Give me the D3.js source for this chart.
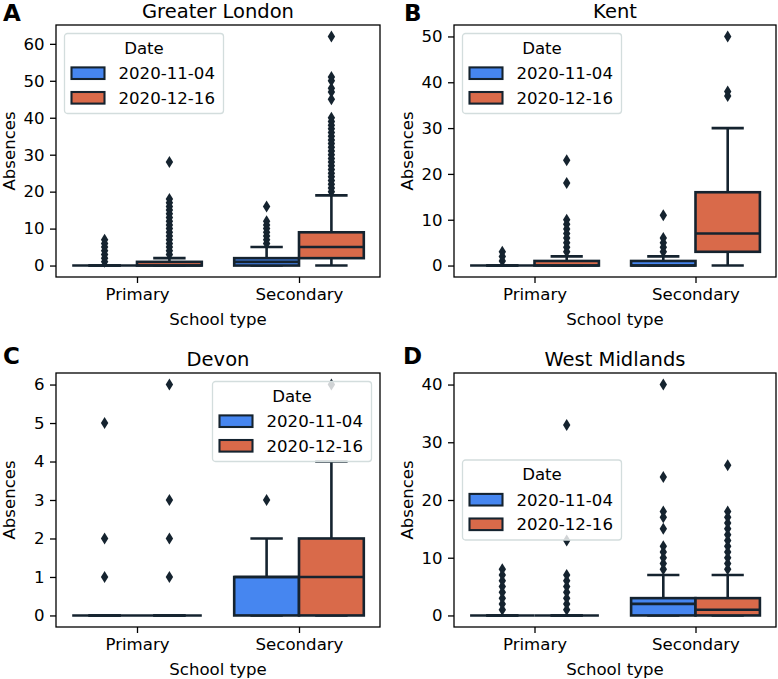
<!DOCTYPE html>
<html><head><meta charset="utf-8">
<script src="https://cdn.jsdelivr.net/npm/d3@7"></script>
<style>
body{margin:0;background:#fff}
svg{display:block}
text{font-family:"DejaVu Sans",sans-serif;fill:#000}
</style>
</head><body>
<svg id="chart" width="778" height="679"></svg>
<script>
// ---------- data ----------
const regions = ["Greater London", "Kent", "Devon", "West Midlands"];
const panelLetters = ["A", "B", "C", "D"];
const schoolTypes = ["Primary", "Secondary"];
const dates = ["2020-11-04", "2020-12-16"];
const dateColors = ["#4686f0", "#d96a4a"];

// box stats per box: [whiskerLow, q1, median, q3, whiskerHigh]
// order: Primary/2020-11-04, Primary/2020-12-16, Secondary/2020-11-04, Secondary/2020-12-16
const londonStats = [[0,0,0,0,0],[0,0,0,1,2],[0,0,1,2,5],[0,2,5,9,19]];
const londonFliers = [
  [1,2,3,4,5,6,7],
  [3,4,5,6,7,8,9,10,11,12,13,14,15,16,17,18,28],
  [6,7,8,9,10,11,12,16],
  [20,21,22,23,24,25,26,27,28,29,30,31,32,33,34,35,36,37,38,39,40,45,47,48,50,51,62]
];
const kentStats = [[0,0,0,0,0],[0,0,0,1,2],[0,0,0,1,2],[0,3,7,16,30]];
const kentFliers = [
  [1,2,3],
  [3,4,5,6,7,8,9,10,18,23],
  [3,4,5,6,11],
  [37,38,50]
];
const devonStats = [[0,0,0,0,0],[0,0,0,0,0],[0,0,1,1,2],[0,0,1,2,4]];
const devonFliers = [
  [1,2,5],
  [1,2,3,6],
  [3],
  [6]
];
const midlandsStats = [[0,0,0,0,0],[0,0,0,0,0],[0,0,2,3,7],[0,0,1,3,7]];
const midlandsFliers = [
  [1,2,3,4,5,6,7,8],
  [1,2,3,4,5,6,7,13,33],
  [8,9,10,11,12,15,17,18,24,40],
  [8,9,10,11,12,13,14,15,16,17,18,26]
];
const londonTicks = [0,10,20,30,40,50,60];
const kentTicks = [0,10,20,30,40,50];
const devonTicks = [0,1,2,3,4,5,6];
const midlandsTicks = [0,10,20,30,40];

const allStats = [londonStats, kentStats, devonStats, midlandsStats];
const allFliers = [londonFliers, kentFliers, devonFliers, midlandsFliers];
const allTicks = [londonTicks, kentTicks, devonTicks, midlandsTicks];

// ---------- layout ----------
const frames = [
  {l:56, r:380, t:25, b:277},
  {l:454, r:776, t:25, b:277},
  {l:56, r:380, t:373, b:627},
  {l:454, r:776, t:373, b:627}
];
const letterPos = [[3,21],[404,21],[3,364],[403,364]];
const legendLoc = ["upper left","upper left","upper right","center left"];

const FS = 16.6;
const LINE = "#15232f";
const LW = 2.6;

const svg = d3.select("#chart");

regions.forEach((region, p) => {
  const f = frames[p];
  const stats = allStats[p], fliers = allFliers[p];
  const g = svg.append("g");

  const maxV = d3.max([...stats.flat(), ...fliers.flat()]);
  const minV = 0;
  const pad = 0.05 * (maxV - minV);
  const y = d3.scaleLinear().domain([minV - pad, maxV + pad]).range([f.b, f.t]);
  const x = d3.scaleLinear().domain([-0.5, 1.5]).range([f.l, f.r]);

  // boxes
  const boxW = 0.4;
  stats.forEach((s, i) => {
    const cat = Math.floor(i / 2), hue = i % 2;
    const cx = cat + (hue === 0 ? -0.2 : 0.2);
    const x0 = x(cx - boxW / 2), x1 = x(cx + boxW / 2);
    const [wl, q1, med, q3, wh] = s;
    const bg = g.append("g");
    // whiskers
    bg.append("line").attr("x1", x(cx)).attr("x2", x(cx)).attr("y1", y(q3)).attr("y2", y(wh))
      .attr("stroke", LINE).attr("stroke-width", LW);
    bg.append("line").attr("x1", x(cx)).attr("x2", x(cx)).attr("y1", y(q1)).attr("y2", y(wl))
      .attr("stroke", LINE).attr("stroke-width", LW);
    // caps
    [wl, wh].forEach(v => {
      bg.append("line").attr("x1", x(cx - boxW / 4)).attr("x2", x(cx + boxW / 4))
        .attr("y1", y(v)).attr("y2", y(v)).attr("stroke", LINE).attr("stroke-width", LW);
    });
    // box
    bg.append("rect").attr("x", x0).attr("width", x1 - x0)
      .attr("y", y(q3)).attr("height", Math.max(0, y(q1) - y(q3)))
      .attr("fill", dateColors[hue]).attr("stroke", LINE).attr("stroke-width", LW);
    // median
    bg.append("line").attr("x1", x0).attr("x2", x1).attr("y1", y(med)).attr("y2", y(med))
      .attr("stroke", LINE).attr("stroke-width", LW);
    // fliers
    bg.selectAll("path.fl").data(fliers[i]).join("path")
      .attr("class", "fl")
      .attr("d", v => {
        const px = x(cx), py = y(v), hw = 3.7, hh = 6;
        return `M${px},${py - hh}L${px + hw},${py}L${px},${py + hh}L${px - hw},${py}Z`;
      })
      .attr("fill", LINE);
  });

  // frame
  g.append("rect").attr("x", f.l).attr("y", f.t).attr("width", f.r - f.l).attr("height", f.b - f.t)
    .attr("fill", "none").attr("stroke", "#000").attr("stroke-width", 1.3);

  // axes
  const ya = g.append("g").attr("transform", `translate(${f.l},0)`)
    .call(d3.axisLeft(y).tickValues(allTicks[p]).tickFormat(d3.format("d")).tickSize(6).tickPadding(5.5).tickSizeOuter(0));
  const xa = g.append("g").attr("transform", `translate(0,${f.b})`)
    .call(d3.axisBottom(x).tickValues([0, 1]).tickFormat(i => schoolTypes[i]).tickSize(6).tickPadding(5.5).tickSizeOuter(0));
  [ya, xa].forEach(a => {
    a.select(".domain").remove();
    a.selectAll("line").attr("stroke", "#000").attr("stroke-width", 1.3);
    a.selectAll("text").attr("font-size", FS).attr("font-family", "DejaVu Sans").attr("fill", "#000");
  });

  // labels
  g.append("text").attr("x", (f.l + f.r) / 2).attr("y", f.b + 48).attr("text-anchor", "middle")
    .attr("font-size", FS).text("School type");
  g.append("text").attr("transform", `translate(${f.l - 41},${(f.t + f.b) / 2}) rotate(-90)`)
    .attr("text-anchor", "middle").attr("font-size", FS).text("Absences");
  g.append("text").attr("x", (f.l + f.r) / 2).attr("y", f.t - 6.8).attr("text-anchor", "middle")
    .attr("font-size", 19.5).text(region);
  g.append("text").attr("x", letterPos[p][0]).attr("y", letterPos[p][1])
    .attr("font-size", 23).attr("font-weight", "bold").text(panelLetters[p]);

  // legend
  const LWd = 159, LH = 80, off = 8.5;
  let lx, ly;
  if (legendLoc[p] === "upper left") { lx = f.l + off; ly = f.t + off; }
  else if (legendLoc[p] === "upper right") { lx = f.r - off - LWd; ly = f.t + off; }
  else { lx = f.l + off; ly = (f.t + f.b) / 2 - LH / 2; }
  const lg = g.append("g").attr("transform", `translate(${lx},${ly})`);
  lg.append("rect").attr("width", LWd).attr("height", LH).attr("rx", 3)
    .attr("fill", "#fff").attr("fill-opacity", 0.8).attr("stroke", "#d3dddd").attr("stroke-width", 1.3);
  lg.append("text").attr("x", LWd / 2).attr("y", 20.3).attr("text-anchor", "middle")
    .attr("font-size", FS).text("Date");
  dates.forEach((d, k) => {
    const cy = 39.7 + k * 24.6;
    lg.append("rect").attr("x", 7).attr("y", cy - 5.8).attr("width", 33).attr("height", 11.6)
      .attr("fill", dateColors[k]).attr("stroke", LINE).attr("stroke-width", LW * 0.8);
    lg.append("text").attr("x", 54).attr("y", cy + 5.8).attr("font-size", FS).text(d);
  });
});
</script>
</body></html>
